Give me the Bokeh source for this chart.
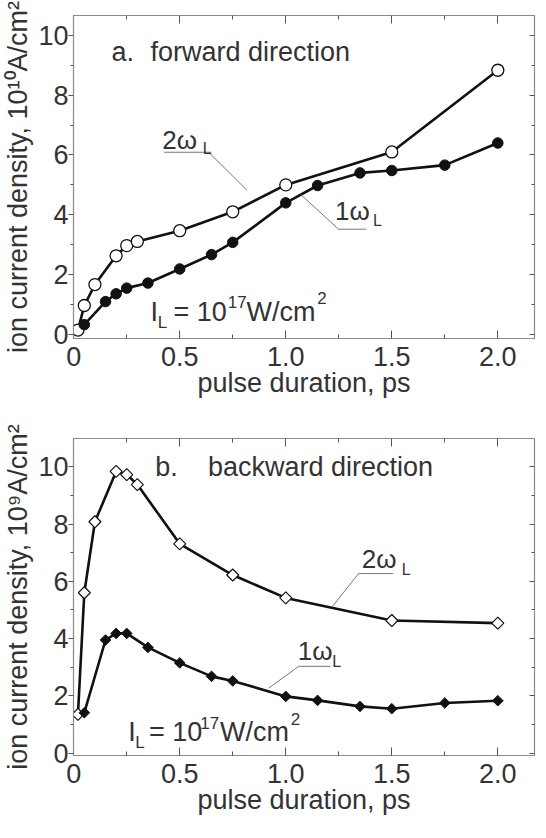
from bokeh.plotting import figure
from bokeh.models import (LinearAxis, FixedTicker, Range1d, CustomJSTickFormatter, Label)
from bokeh.layouts import column
from bokeh.embed import file_html
from bokeh.resources import INLINE

FONT = "Liberation Sans"
TXT = "#333333"
LINE = "#111111"
FRAME = "#8a8a8a"

# ---- data ----
pulse_2w = [0.02, 0.05, 0.1, 0.2, 0.25, 0.3, 0.5, 0.75, 1.0, 1.5, 2.0]
pulse_1w = [0.05, 0.15, 0.2, 0.25, 0.35, 0.5, 0.65, 0.75, 1.0, 1.15, 1.35, 1.5, 1.75, 2.0]

fwd_2w = [0.15, 0.97, 1.67, 2.63, 2.97, 3.11, 3.47, 4.1, 5.0, 6.1, 8.83]
fwd_1w = [0.33, 1.1, 1.36, 1.55, 1.72, 2.19, 2.67, 3.08, 4.4, 4.98, 5.4, 5.48, 5.66, 6.4]

bwd_2w = [1.35, 5.6, 8.08, 9.84, 9.73, 9.38, 7.31, 6.22, 5.42, 4.63, 4.54]
bwd_1w = [1.41, 3.95, 4.18, 4.18, 3.69, 3.15, 2.68, 2.52, 1.98, 1.84, 1.63, 1.55, 1.75, 1.83]

x_ticks = [0, 0.5, 1.0, 1.5, 2.0]
x_minor = [0.25, 0.75, 1.25, 1.75]
y_ticks = [0, 2, 4, 6, 8, 10]
y_minor = [1, 3, 5, 7, 9]

x_title = "pulse duration, ps"
y_title_fwd = "ion current density, 10\u00b9\u2070A/cm\u00b2"
y_title_bwd = "ion current density, 10\u2079A/cm\u00b2"

BIG = "27px"


def make_panel(height, y_start, y_end, top_border, bottom_border, y_title):
    p = figure(width=537, height=height,
               x_range=Range1d(-0.001, 2.173), y_range=Range1d(y_start, y_end),
               output_backend="svg", toolbar_location=None,
               min_border_left=73, min_border_right=3,
               min_border_top=top_border, min_border_bottom=bottom_border,
               background_fill_color="white", border_fill_color="white")
    p.grid.visible = False
    p.outline_line_color = FRAME
    p.outline_line_width = 1.2

    xa = p.xaxis[0]
    xa.ticker = FixedTicker(ticks=x_ticks, minor_ticks=x_minor)
    xa.formatter = CustomJSTickFormatter(code="return tick == 0 ? '0' : tick.toFixed(1);")
    xa.major_tick_in = 8
    xa.major_tick_out = 0
    xa.minor_tick_in = 4
    xa.minor_tick_out = 0
    xa.major_label_standoff = 8
    xa.axis_label = x_title
    xa.axis_label_standoff = -1
    xa.axis_label_text_font_style = "normal"

    ya = p.yaxis[0]
    ya.ticker = FixedTicker(ticks=y_ticks, minor_ticks=y_minor)
    ya.major_tick_in = 0
    ya.major_tick_out = 5
    ya.minor_tick_in = 0
    ya.minor_tick_out = 3
    ya.major_label_standoff = 0
    ya.axis_label = y_title
    ya.axis_label_standoff = 2
    ya.axis_label_text_font_style = "normal"

    for ax in (xa, ya):
        ax.axis_line_color = FRAME
        ax.major_tick_line_color = "#555555"
        ax.minor_tick_line_color = "#555555"
        ax.major_label_text_font = FONT
        ax.major_label_text_font_size = BIG
        ax.major_label_text_color = TXT
        ax.axis_label_text_font = FONT
        ax.axis_label_text_font_size = BIG
        ax.axis_label_text_color = TXT

    top = LinearAxis(ticker=FixedTicker(ticks=x_ticks, minor_ticks=x_minor),
                     formatter=CustomJSTickFormatter(code="return '';"),
                     major_tick_in=8, major_tick_out=0, minor_tick_in=4, minor_tick_out=0,
                     major_label_standoff=0, major_label_text_font_size="1px",
                     axis_line_color=FRAME, major_tick_line_color="#555555",
                     minor_tick_line_color="#555555")
    right = LinearAxis(ticker=FixedTicker(ticks=y_ticks, minor_ticks=y_minor),
                       formatter=CustomJSTickFormatter(code="return '';"),
                       major_tick_in=5, major_tick_out=0, minor_tick_in=3, minor_tick_out=0,
                       major_label_standoff=0, major_label_text_font_size="1px",
                       axis_line_color=FRAME, major_tick_line_color="#555555",
                       minor_tick_line_color="#555555")
    p.add_layout(top, "above")
    p.add_layout(right, "right")
    return p


def add_label(p, x, y, text, size):
    p.add_layout(Label(x=x, y=y, text=text, text_font=FONT, text_font_size=size,
                       text_color=TXT, text_baseline="middle", text_align="left"))


def add_leader(p, xs, ys):
    p.line(xs, ys, line_color="#777777", line_width=1)


# ---- panel a: forward ----
p1 = make_panel(416, -0.133, 10.66, 15, 78, y_title_fwd)
p1.line(pulse_2w, fwd_2w, line_color=LINE, line_width=2.6)
p1.line(pulse_1w, fwd_1w, line_color=LINE, line_width=2.6)
p1.scatter(pulse_2w, fwd_2w, marker="circle", size=12, fill_color="white",
           line_color=LINE, line_width=1.3)
p1.scatter(pulse_1w, fwd_1w, marker="circle", size=10.5, fill_color=LINE,
           line_color=LINE, line_width=1)

add_label(p1, 0.178, 9.43, "a.", BIG)
add_label(p1, 0.362, 9.43, "forward direction", BIG)
add_label(p1, 0.418, 6.5, "2\u03c9", "26px")
add_label(p1, 0.608, 6.22, "L", "16px")
add_leader(p1, [0.427, 0.648], [6.09, 6.09])
add_leader(p1, [0.638, 0.817], [6.08, 4.82])
add_label(p1, 1.232, 4.12, "1\u03c9", "26px")
add_label(p1, 1.411, 3.80, "L", "16px")
add_leader(p1, [1.244, 1.380], [3.52, 3.52])
add_leader(p1, [1.244, 1.070], [3.55, 4.68])
add_label(p1, 0.362, 0.76, "I", BIG)
add_label(p1, 0.396, 0.40, "L", "17px")
add_label(p1, 0.470, 0.76, "= 10", BIG)
add_label(p1, 0.727, 1.08, "17", "17px")
add_label(p1, 0.815, 0.76, "W/cm", BIG)
add_label(p1, 1.148, 1.22, "2", "17px")

# ---- panel b: backward ----
p2 = make_panel(406, -0.085, 10.99, 22, 67, y_title_bwd)
p2.line(pulse_2w, bwd_2w, line_color=LINE, line_width=2.6)
p2.line(pulse_1w, bwd_1w, line_color=LINE, line_width=2.6)
p2.scatter(pulse_2w, bwd_2w, marker="square", angle=0.7854, size=8.5, fill_color="white",
           line_color=LINE, line_width=1.2)
p2.scatter(pulse_1w, bwd_1w, marker="square", angle=0.7854, size=7.5, fill_color=LINE,
           line_color=LINE, line_width=1)

add_label(p2, 0.385, 10.0, "b.", BIG)
add_label(p2, 0.633, 10.0, "backward direction", BIG)
add_label(p2, 1.358, 6.79, "2\u03c9", "26px")
add_label(p2, 1.547, 6.42, "L", "16px")
add_leader(p2, [1.343, 1.507], [6.27, 6.27])
add_leader(p2, [1.343, 1.219], [6.27, 5.11])
add_label(p2, 1.057, 3.57, "1\u03c9", "26px")
add_label(p2, 1.219, 3.21, "L", "16px")
add_leader(p2, [1.061, 1.211], [3.03, 3.03])
add_leader(p2, [1.061, 0.920], [3.03, 2.27])
add_label(p2, 0.257, 0.74, "I", BIG)
add_label(p2, 0.290, 0.36, "L", "17px")
add_label(p2, 0.355, 0.74, "= 10", BIG)
add_label(p2, 0.597, 1.06, "17", "17px")
add_label(p2, 0.690, 0.74, "W/cm", BIG)
add_label(p2, 1.024, 1.20, "2", "17px")

layout = column(p1, p2, spacing=0)
open("out.html", "w").write(file_html(layout, INLINE))
